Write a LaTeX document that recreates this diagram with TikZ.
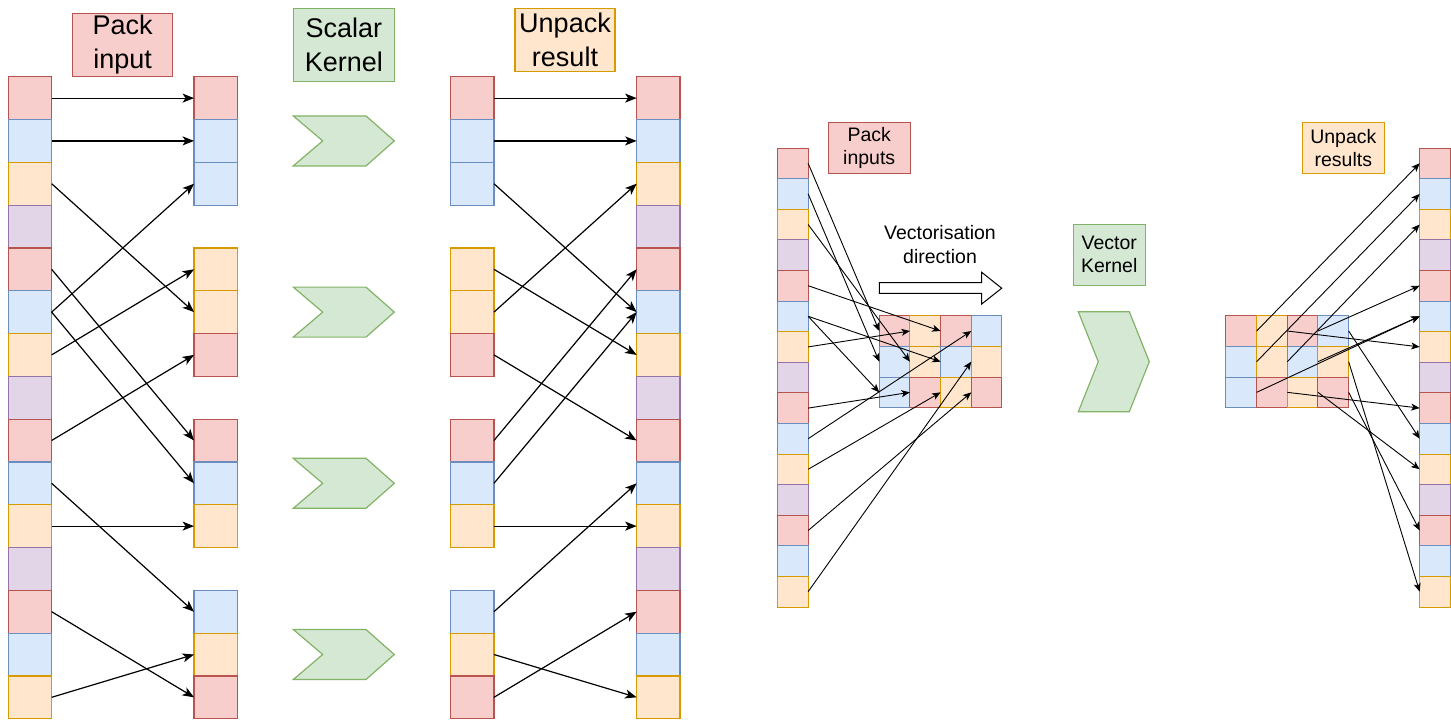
\documentclass[tikz,border=0pt]{standalone}
\usepackage{fontspec}
\setmainfont{Liberation Sans}
\usepackage{tikz}
\usetikzlibrary{arrows.meta}

\definecolor{fillred}{HTML}{F8CECC}
\definecolor{lnred}{HTML}{B85450}
\definecolor{fillblue}{HTML}{DAE8FC}
\definecolor{lnblue}{HTML}{6C8EBF}
\definecolor{fillorange}{HTML}{FFE6CC}
\definecolor{lnorange}{HTML}{D79B00}
\definecolor{fillpurple}{HTML}{E1D5E7}
\definecolor{lnpurple}{HTML}{9673A6}
\definecolor{fillgreen}{HTML}{D5E8D4}
\definecolor{lngreen}{HTML}{82B366}

\begin{document}
\begin{tikzpicture}[x=1pt, y=-1pt,
  cell/.style={draw=ln#1, fill=fill#1, line width=1.2pt, inner sep=0pt, outer sep=0pt,
    minimum width=43.3pt, minimum height=42.8pt},
  small/.style={cell=#1, line width=1pt, minimum width=30.67pt, minimum height=30.6pt},
  tag/.style={draw=ln#1, fill=fill#1, line width=1.2pt, align=center, inner sep=0pt,
    font=\fontsize{27}{34}\selectfont},
  stag/.style={tag=#1, line width=1pt, font=\fontsize{19.5}{23.5}\selectfont},
  kernel/.style={draw=lngreen, fill=fillgreen, line width=1.2pt},
  link/.style={-{Stealth[length=11.5pt, width=9pt, inset=3pt]}, line width=1.2pt},
  vlink/.style={-{Stealth[length=8.5pt, width=7pt, inset=2.2pt]}, line width=0.9pt}]
\useasboundingbox (0,0) rectangle (1451,721);
%
% scalar kernel: input and output columns
\foreach \cl [count=\i from 0] in {red,blue,orange,purple,red,blue,orange,purple,red,blue,orange,purple,red,blue,orange}{
  \node[cell=\cl] (a\i) at (30,98.1+42.8*\i) {};
  \node[cell=\cl] (d\i) at (658.3,98.1+42.8*\i) {};
}
\foreach \cl [count=\i from 0] in {red,blue,blue,orange,orange,red,red,blue,orange,blue,orange,red}{
  \pgfmathtruncatemacro\row{4*int(\i/3)+mod(\i,3)}
  \node[cell=\cl] (b\i) at (215.7,98.1+42.8*\row) {};
  \node[cell=\cl] (c\i) at (472.3,98.1+42.8*\row) {};
}
%
\foreach \k in {0,...,3}
  \draw[kernel] (293.3,115.9+171.2*\k) -- ++(72.7,0) -- ++(28.3,25) -- ++(-28.3,25)
    -- ++(-72.7,0) -- ++(29.4,-25) -- cycle;
%
\foreach \s/\t in {a0/b0,a1/b1,a5/b2,a6/b3,a2/b4,a8/b5,a4/b6,a5/b7,a10/b8,a9/b9,a14/b10,a12/b11}
  \draw[link] (\s.east) -- (\t.west);
\foreach \s/\t in {c0/d0,c1/d1,c2/d5,c3/d6,c4/d2,c5/d8,c6/d4,c7/d5,c8/d10,c9/d9,c10/d14,c11/d12}
  \draw[link] (\s.east) -- (\t.west);
%
\node[tag=red, minimum width=100pt, minimum height=63.4pt] (packlbl) at (122.7,45) {Pack\\input};
\node[tag=green, minimum width=101pt, minimum height=73.4pt] (scalarlbl) at (343.8,45) {Scalar\\Kernel};
\node[tag=orange, minimum width=100pt, minimum height=63.4pt] (unpacklbl) at (565,40) {Unpack\\result};
%
% vector kernel
\foreach \cl [count=\i from 0] in {red,blue,orange,purple,red,blue,orange,purple,red,blue,orange,purple,red,blue,orange}{
  \node[small=\cl] (e\i) at (792.8,163.3+30.6*\i) {};
  \node[small=\cl] (f\i) at (1435,163.3+30.6*\i) {};
}
\foreach \cl [count=\i from 0] in {red,orange,red,blue,blue,orange,blue,orange,blue,red,orange,red}{
  \pgfmathtruncatemacro\mr{int(\i/4)}
  \pgfmathtruncatemacro\mc{mod(\i,4)}
  \node[small=\cl, minimum height=30.67pt] (m\mr\mc) at (894.6+30.67*\mc,331+30.67*\mr) {};
  \node[small=\cl, minimum height=30.67pt] (n\mr\mc) at (1241.3+30.67*\mc,331+30.67*\mr) {};
}
%
\foreach \s/\t in {e0/m00,e1/m10,e2/m11,e4/m02,e5/m12,e5/m20,e6/m01,e8/m21,e9/m03,e10/m22,e12/m23,e14/m13}
  \draw[vlink] (\s.east) -- (\t.west);
\foreach \s/\t in {n00/f0,n10/f1,n11/f2,n02/f4,n20/f5,n12/f5,n01/f6,n21/f8,n03/f9,n22/f10,n23/f12,n13/f14}
  \draw[vlink] (\s.east) -- (\t.west);
%
\node[stag=red, minimum width=81.7pt, minimum height=51pt] (packlbl2) at (869.2,147.8) {Pack\\inputs};
\node[stag=orange, minimum width=82pt, minimum height=51pt] (unpacklbl2) at (1343.3,147.8) {Unpack\\results};
\node[stag=green, minimum width=71.7pt, minimum height=61pt] (vectorlbl) at (1109.2,254.5) {Vector\\Kernel};
\node[align=center, font=\fontsize{19.5}{23.5}\selectfont] (dirlbl) at (940,244.7) {Vectorisation\\direction};
%
\draw[line width=1pt, fill=white] (879.3,282.7) -- (981.7,282.7) -- (981.7,272.3) -- (1001.7,288.2)
  -- (981.7,304) -- (981.7,293.3) -- (879.3,293.3) -- cycle;
\draw[kernel] (1078.3,311.7) -- (1129.3,311.7) -- (1149.3,361.7) -- (1129.3,411.7)
  -- (1078.3,411.7) -- (1098.3,361.7) -- cycle;
\end{tikzpicture}
\end{document}
